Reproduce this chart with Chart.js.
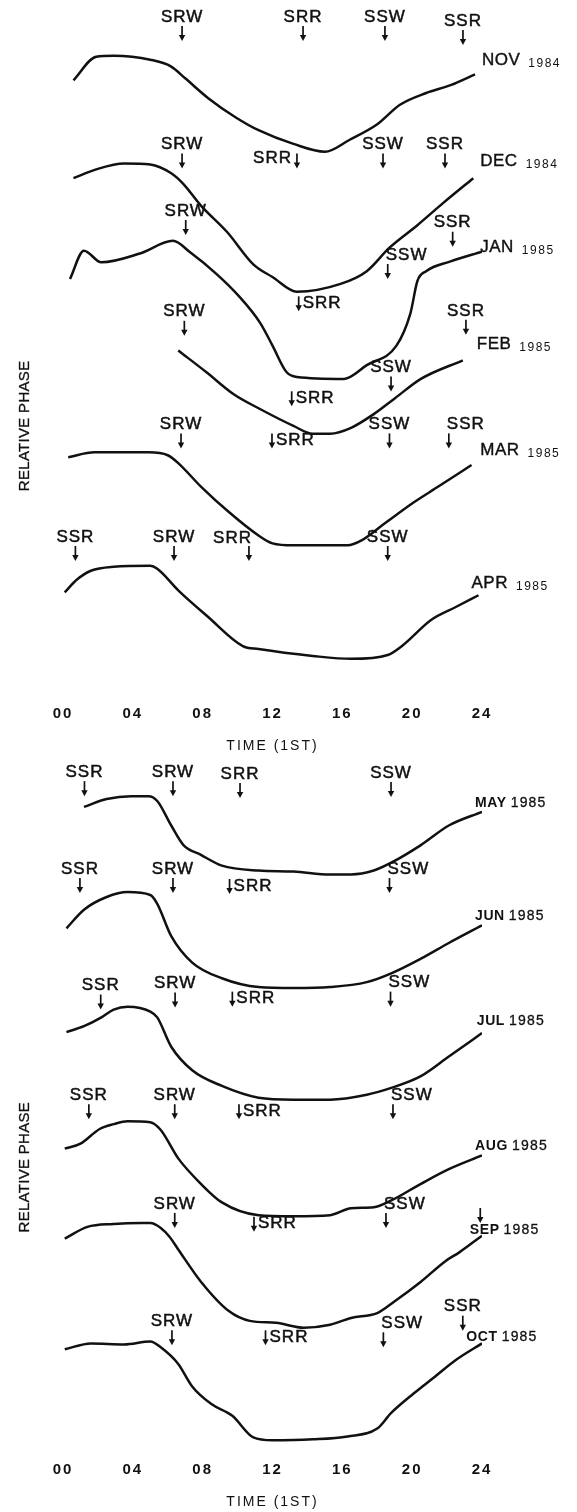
<!DOCTYPE html>
<html>
<head>
<meta charset="utf-8">
<script src="https://cdn.jsdelivr.net/npm/chart.js@4.4.0/dist/chart.umd.min.js"></script>
<style>
  body { margin: 0; background: #fff; }
  canvas { display: block; }
</style>
</head>
<body>
<canvas id="topPanel" width="577" height="756"></canvas>
<canvas id="bottomPanel" width="577" height="756"></canvas>
<script>
const tickHours = [0, 4, 8, 12, 16, 20, 24];

// top panel: Nov 1984 - Apr 1985
const topMonths = ['NOV', 'DEC', 'JAN', 'FEB', 'MAR', 'APR'];
const topYears = ['1984', '1984', '1985', '1985', '1985', '1985'];
const topLabelTime = [24.0, 23.9, 23.9, 23.7, 23.9, 23.4];
const topLabelPhase = [643, 540, 452, 353, 245, 109];

const novTime = [0.6, 1.9, 2.9, 5.0, 6.2, 7.0, 8.3, 9.9, 11.2, 13.2, 15.0, 16.4, 18.0, 19.3, 20.8, 22.2, 23.6];
const novPhase = [623, 647, 648, 644, 637, 625, 605, 585, 572, 558, 550, 562, 578, 598, 610, 618, 629];
const decTime = [0.6, 1.9, 3.5, 5.0, 6.2, 6.9, 7.9, 9.4, 10.9, 12.0, 13.4, 15.9, 17.4, 18.7, 20.3, 21.8, 23.5];
const decPhase = [523, 532, 538, 537, 528, 517, 495, 468, 435, 422, 407, 415, 428, 452, 475, 498, 523];
const janTime = [0.4, 1.2, 2.2, 4.4, 6.3, 7.3, 8.8, 10.1, 11.3, 12.0, 12.8, 13.4, 16.1, 17.4, 19.1, 19.9, 20.3, 20.8, 22.2, 24.0];
const janPhase = [420, 449, 437, 446, 459, 447, 425, 402, 375, 352, 325, 320, 318, 332, 352, 385, 418, 428, 438, 448];
const febTime = [6.6, 8.2, 9.8, 11.2, 13.2, 14.3, 15.3, 16.5, 17.8, 19.0, 20.5, 22.9];
const febPhase = [347, 325, 302, 288, 270, 262, 262, 268, 282, 298, 318, 337];
const marTime = [0.3, 1.8, 4.9, 6.0, 6.6, 7.9, 9.5, 11.2, 12.0, 13.2, 16.3, 17.1, 18.4, 20.1, 21.5, 23.4];
const marPhase = [238, 243, 243, 240, 232, 208, 182, 158, 150, 148, 148, 153, 170, 192, 208, 230];
const aprTime = [0.1, 0.8, 1.6, 2.9, 5.0, 5.4, 6.6, 8.3, 10.3, 11.2, 14.3, 16.5, 18.6, 19.4, 21.1, 22.5, 23.8];
const aprPhase = [100, 113, 122, 126, 127, 124, 102, 75, 45, 42, 35, 32, 36, 45, 72, 85, 97];

const topEvName = ['SRW', 'SRR', 'SSW', 'SSR', 'SRW', 'SRR', 'SSW', 'SSR', 'SRW', 'SRR', 'SSW', 'SSR',
                   'SRW', 'SRR', 'SSW', 'SSR', 'SRW', 'SRR', 'SSW', 'SSR', 'SSR', 'SRW', 'SRR', 'SSW'];
const topEvTime = [6.82, 13.75, 18.44, 22.91, 6.82, 13.4, 18.33, 21.88, 7.03, 13.5, 18.6, 22.32,
                   6.95, 13.1, 18.79, 23.08, 6.76, 11.97, 18.7, 22.1, 0.71, 6.36, 10.65, 18.6];
const topEvPhase = [663, 663, 663, 659, 533, 533, 533, 533, 465, 387, 420, 453,
                    362, 290, 305, 363, 247, 247, 247, 247, 132, 132, 132, 132];
const topEvSide = ['up', 'up', 'up', 'up', 'up', 'left', 'up', 'up', 'up', 'right', 'upRight', 'up',
                   'up', 'right', 'up', 'up', 'up', 'right', 'up', 'upRight', 'up', 'up', 'upLeft', 'up'];

// bottom panel: May 1985 - Oct 1985
const botMonths = ['MAY', 'JUN', 'JUL', 'AUG', 'SEP', 'OCT'];
const botYears = ['1985', '1985', '1985', '1985', '1985', '1985'];
const botLabelTime = [23.6, 23.6, 23.7, 23.6, 23.3, 23.1];
const botLabelPhase = [657, 541, 434, 306, 221, 111];

const mayTime = [1.2, 2.5, 3.9, 4.9, 5.4, 6.2, 6.9, 7.9, 9.1, 11.2, 13.2, 15.3, 16.5, 17.8, 18.8, 20.5, 22.1, 24.0];
const mayPhase = [653, 661, 664, 664, 659, 634, 614, 604, 593, 588, 587, 584, 584, 588, 596, 614, 634, 648];
const junTime = [0.2, 1.2, 2.5, 3.7, 5.0, 5.4, 6.2, 7.4, 9.1, 11.2, 13.2, 15.3, 17.4, 18.8, 20.5, 22.1, 24.0];
const junPhase = [529, 548, 561, 566, 563, 554, 521, 494, 478, 469, 468, 469, 474, 483, 498, 514, 532];
const julTime = [0.2, 1.2, 2.2, 2.9, 3.7, 5.0, 5.4, 6.2, 7.4, 9.1, 11.2, 13.2, 15.3, 17.4, 18.8, 20.5, 22.1, 24.0];
const julPhase = [423, 429, 438, 446, 449, 444, 438, 408, 384, 368, 356, 354, 354, 359, 366, 378, 398, 422];
const augTime = [0.1, 1.0, 2.1, 2.9, 3.7, 5.0, 5.6, 6.6, 7.9, 9.1, 11.2, 13.2, 15.3, 16.5, 17.8, 18.8, 20.5, 22.1, 24.0];
const augPhase = [304, 309, 324, 329, 332, 331, 323, 294, 268, 249, 236, 235, 236, 243, 244, 251, 268, 283, 297];
const sepTime = [0.1, 1.4, 2.9, 4.5, 5.0, 5.6, 6.1, 6.6, 7.9, 9.5, 10.7, 12.2, 13.8, 15.3, 16.5, 18.0, 19.0, 20.5, 21.9, 22.7, 24.0];
const sepPhase = [212, 224, 227, 228, 228, 223, 214, 201, 168, 138, 128, 126, 121, 124, 131, 136, 148, 168, 189, 198, 215];
const octTime = [0.1, 1.6, 3.5, 5.0, 5.6, 6.6, 7.4, 8.5, 9.7, 10.9, 12.0, 14.3, 16.3, 18.0, 18.8, 20.1, 21.3, 22.5, 24.0];
const octPhase = [99, 105, 104, 107, 101, 84, 61, 43, 31, 9, 6, 7, 10, 18, 34, 54, 71, 88, 105];

const botEvName = ['SSR', 'SRW', 'SRR', 'SSW', 'SSR', 'SRW', 'SRR', 'SSW', 'SSR', 'SRW', 'SRR', 'SSW',
                   'SSR', 'SRW', 'SRR', 'SSW', 'SRW', 'SRR', 'SSW', '', 'SRW', 'SRR', 'SSW', 'SSR'];
const botEvTime = [1.23, 6.3, 10.14, 18.79, 0.97, 6.3, 9.54, 18.7, 2.16, 6.42, 9.7, 18.76,
                   1.48, 6.4, 10.08, 18.9, 6.4, 10.94, 18.5, 23.9, 6.24, 11.6, 18.35, 22.9];
const botEvPhase = [664, 664, 662, 663, 565, 565, 564, 565, 446, 448, 449, 449,
                    334, 334, 334, 334, 223, 219, 223, 228, 103, 103, 101, 118];
const botEvSide = ['up', 'up', 'up', 'up', 'up', 'up', 'right', 'upRight', 'up', 'up', 'right', 'upRight',
                   'up', 'up', 'right', 'upRight', 'up', 'right', 'upRight', 'up', 'up', 'right', 'upRight', 'up'];

const FONT = '"Liberation Sans", Arial, Helvetica, sans-serif';
const INK = '#111';

function toPoints(times, phases) {
    let pts = [];
    for (let i = 0; i < times.length; i++) {
        pts.push({ x: times[i], y: phases[i] });
    }
    return pts;
}

function drawText(ctx, text, x, y, size, weight, spacing, align, heavy) {
    ctx.save();
    ctx.font = weight + ' ' + size + 'px ' + FONT;
    ctx.letterSpacing = spacing + 'px';
    ctx.textAlign = align;
    ctx.textBaseline = 'middle';
    ctx.fillStyle = INK;
    ctx.fillText(text, x, y);
    if (heavy) {
        ctx.strokeStyle = INK;
        ctx.lineWidth = heavy;
        ctx.strokeText(text, x, y);
    }
    ctx.restore();
}

function textWidth(ctx, text, size, weight, spacing) {
    ctx.save();
    ctx.font = weight + ' ' + size + 'px ' + FONT;
    ctx.letterSpacing = spacing + 'px';
    let w = ctx.measureText(text).width;
    ctx.restore();
    return w;
}

function drawArrow(ctx, x, tip) {
    ctx.save();
    ctx.strokeStyle = INK;
    ctx.fillStyle = INK;
    ctx.lineWidth = 1.7;
    ctx.beginPath();
    ctx.moveTo(x, tip - 15);
    ctx.lineTo(x, tip - 4);
    ctx.stroke();
    ctx.beginPath();
    ctx.moveTo(x - 3.2, tip - 6);
    ctx.lineTo(x + 3.2, tip - 6);
    ctx.lineTo(x, tip);
    ctx.closePath();
    ctx.fill();
    ctx.restore();
}

function makePanel(id, months, years, times, phases, labelTime, labelPhase, ev, big) {
    let datasets = [];
    for (let i = 0; i < months.length; i++) {
        datasets.push({
            label: months[i] + ' ' + years[i],
            data: toPoints(times[i], phases[i]),
            borderColor: INK,
            borderWidth: 2.5,
            pointRadius: 0,
            fill: false,
            cubicInterpolationMode: 'monotone'
        });
    }

    let marks = {
        id: 'marks',
        beforeDraw: function (chart) {
            chart.ctx.letterSpacing = '2px';
        },
        afterDraw: function (chart) {
            let ctx = chart.ctx;
            let xs = chart.scales.x;
            let ys = chart.scales.y;

            for (let i = 0; i < ev.name.length; i++) {
                let x = xs.getPixelForValue(ev.time[i]);
                let tip = ys.getPixelForValue(ev.phase[i]);
                let top = tip - 15;
                drawArrow(ctx, x, tip);
                let side = ev.side[i];
                let name = ev.name[i];
                if (side === 'up')
                    drawText(ctx, name, x, top - 9, 17, 'normal', 1, 'center', 0.5);
                if (side === 'upRight')
                    drawText(ctx, name, x - 2, top - 9, 17, 'normal', 1, 'left', 0.5);
                if (side === 'upLeft')
                    drawText(ctx, name, x + 3, top - 8, 17, 'normal', 1, 'right', 0.5);
                if (side === 'right')
                    drawText(ctx, name, x + 4, top + 7, 17, 'normal', 1, 'left', 0.5);
                if (side === 'left')
                    drawText(ctx, name, x - 5, top + 5, 17, 'normal', 1, 'right', 0.5);
            }

            for (let i = 0; i < months.length; i++) {
                let x = xs.getPixelForValue(labelTime[i]);
                let y = ys.getPixelForValue(labelPhase[i]);
                if (big) {
                    let w = textWidth(ctx, months[i], 17, 'normal', 0.5);
                    drawText(ctx, months[i], x, y, 17, 'normal', 0.5, 'left', 0.4);
                    drawText(ctx, years[i], x + w + 8, y + 3, 12, 'normal', 1.5, 'left', 0);
                } else {
                    let w = textWidth(ctx, months[i], 14, 'bold', 0.6);
                    drawText(ctx, months[i], x, y, 14, 'bold', 0.6, 'left', 0);
                    drawText(ctx, years[i], x + w + 4, y, 14, 'normal', 1.2, 'left', 0.3);
                }
            }

            ctx.save();
            ctx.translate(xs.left - 38, ys.getPixelForValue(ev.axisLevel));
            ctx.rotate(-Math.PI / 2);
            drawText(ctx, 'RELATIVE PHASE', 0, 0, 15, 'normal', 0.3, 'center', 0.3);
            ctx.restore();
        }
    };

    return new Chart(document.getElementById(id), {
        type: 'line',
        data: { datasets: datasets },
        options: {
            responsive: false,
            animation: false,
            devicePixelRatio: 1,
            layout: { padding: { left: 63, right: 95, top: 0, bottom: 1 } },
            plugins: { legend: { display: false }, tooltip: { enabled: false } },
            scales: {
                x: {
                    type: 'linear',
                    min: 0,
                    max: 24,
                    grid: { display: false },
                    border: { display: false },
                    afterBuildTicks: function (axis) {
                        axis.ticks = tickHours.map(function (h) { return { value: h }; });
                    },
                    ticks: {
                        padding: 7,
                        color: INK,
                        autoSkip: false,
                        maxRotation: 0,
                        font: { family: FONT, size: 15, weight: 'bold' },
                        callback: function (v) { return String(v).padStart(2, '0'); }
                    },
                    title: {
                        display: true,
                        text: 'TIME (1ST)',
                        color: INK,
                        font: { family: FONT, size: 14 },
                        padding: { top: 8, bottom: 0 }
                    }
                },
                y: { display: false, min: 0, max: 705 }
            }
        },
        plugins: [marks]
    });
}

makePanel('topPanel', topMonths, topYears,
    [novTime, decTime, janTime, febTime, marTime, aprTime],
    [novPhase, decPhase, janPhase, febPhase, marPhase, aprPhase],
    topLabelTime, topLabelPhase,
    { name: topEvName, time: topEvTime, phase: topEvPhase, side: topEvSide, axisLevel: 270 }, true);

makePanel('bottomPanel', botMonths, botYears,
    [mayTime, junTime, julTime, augTime, sepTime, octTime],
    [mayPhase, junPhase, julPhase, augPhase, sepPhase, octPhase],
    botLabelTime, botLabelPhase,
    { name: botEvName, time: botEvTime, phase: botEvPhase, side: botEvSide, axisLevel: 285 }, false);
</script>
</body>
</html>
